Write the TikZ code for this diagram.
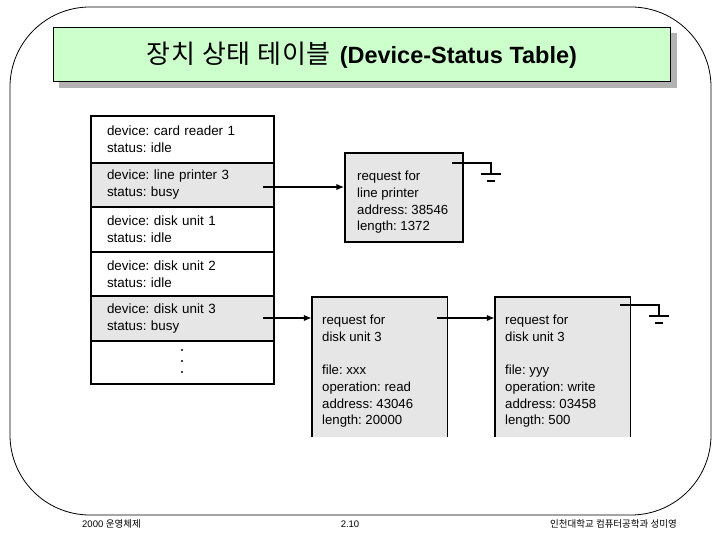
\documentclass[tikz,border=0pt]{standalone}
\usepackage{fontspec}
\setmainfont{Liberation Sans}
\newfontfamily\kr{Noto Sans CJK KR}
\newfontfamily\krw[LetterSpace=3]{Noto Sans CJK KR}
\usetikzlibrary{arrows.meta}
\definecolor{titlegreen}{HTML}{CCFFCC}
\definecolor{shadowgray}{HTML}{B2B2B2}
\definecolor{boxgray}{HTML}{E6E6E6}
\frenchspacing
\begin{document}
\begin{tikzpicture}[x=1pt,y=-1pt,
  frame/.style={draw=black, line width=0.8pt},
  row/.style={draw=black, line width=1.2pt, minimum width=183pt, inner sep=0pt,
    text width=151pt, align=left, font=\fontsize{13.4}{17}\selectfont},
  busy/.style={row, fill=boxgray},
  reqbox/.style={fill=boxgray, inner sep=0pt},
  reqtext/.style={anchor=north west, inner sep=0pt, align=left,
    font=\fontsize{13.2}{16.7}\selectfont},
  ptr/.style={line width=1.6pt},
  arr/.style={ptr, -{Latex[length=8pt,width=6.5pt]}},
  boxline/.style={line width=1.4pt},
  foot/.style={inner sep=0pt, font=\fontsize{9.5}{11}\selectfont},
]
\useasboundingbox (0,0) rectangle (720,540);
% outer frame
\draw[frame, rounded corners=80pt] (10,7) rectangle (711,515);
% title
\fill[shadowgray] (59,33) rectangle (677,88);
\node[draw=black, line width=0.9pt, fill=titlegreen, minimum width=617pt, minimum height=54pt,
  inner sep=0pt] (title) at (361.5,54) {};
\node[inner sep=0pt] (titletext) at (362,55)
  {{\krw\fontsize{26}{28}\selectfont 장치 상태 테이블}\hspace{9pt}{\fontsize{23.5}{26}\selectfont\bfseries (Device-Status Table)}};
% device table
\node[row, minimum height=47pt] (r1) at (182.5,139.5) {device: card reader 1\\status: idle};
\node[busy, minimum height=44pt] (r2) at (182.5,185) {device: line printer 3\\status: busy};
\node[row, minimum height=45pt] (r3) at (182.5,229.5) {device: disk unit 1\\status: idle};
\node[row, minimum height=44pt] (r4) at (182.5,274) {device: disk unit 2\\status: idle};
\node[busy, minimum height=45pt] (r5) at (182.5,318.5) {device: disk unit 3\\status: busy};
\node[row, minimum height=43pt] (r6) at (182.5,362.5) {};
\foreach \yy in {350,361,372} \fill (182,\yy) circle (1.1pt);
% request boxes
\node[reqbox, draw=black, line width=1.4pt, minimum width=118pt, minimum height=89pt] (req1) at (404,197.5) {};
\node[reqtext] (t1) at (357,171) {request for\\line printer\\address: 38546\\length: 1372};
\node[reqbox, minimum width=135pt, minimum height=140pt] (req2) at (379.5,367) {};
\draw[boxline] (req2.south west) -- (req2.north west) -- (req2.north east) -- (req2.south east);
\node[reqtext] (t2) at (322,315) {request for\\disk unit 3\\[16.7pt]file: xxx\\operation: read\\address: 43046\\length: 20000};
\node[reqbox, minimum width=135pt, minimum height=140pt] (req3) at (562.5,367) {};
\draw[boxline] (req3.south west) -- (req3.north west) -- (req3.north east) -- (req3.south east);
\node[reqtext] (t3) at (505,315) {request for\\disk unit 3\\[16.7pt]file: yyy\\operation: write\\address: 03458\\length: 500};
% pointers
\coordinate (s1) at (263,187);
\draw[arr] (s1) -- (s1 -| req1.west);
\coordinate (s2) at (263,318);
\draw[arr] (s2) -- (s2 -| req2.west);
\coordinate (s3) at (437,318);
\draw[arr] (s3) -- (s3 -| req3.west);
% null pointers (ground)
\coordinate (g1) at (452,163);
\draw[ptr] (g1) -| ([shift={(39,11)}]g1);
\draw[ptr] ([shift={(29,11)}]g1) -- ++(20,0);
\draw[ptr] ([shift={(35,18)}]g1) -- ++(8,0);
\coordinate (g3) at (620,305);
\draw[ptr] (g3) -| ([shift={(39,11)}]g3);
\draw[ptr] ([shift={(29,11)}]g3) -- ++(20,0);
\draw[ptr] ([shift={(35,18)}]g3) -- ++(8,0);
% footer
\node[foot, anchor=west] (f1) at (82,524) {2000 {\kr 운영체제}};
\node[foot] (f2) at (350,524) {2.10};
\node[foot, anchor=east] (f3) at (677,524) {\kr 인천대학교 컴퓨터공학과 성미영};
\end{tikzpicture}
\end{document}
